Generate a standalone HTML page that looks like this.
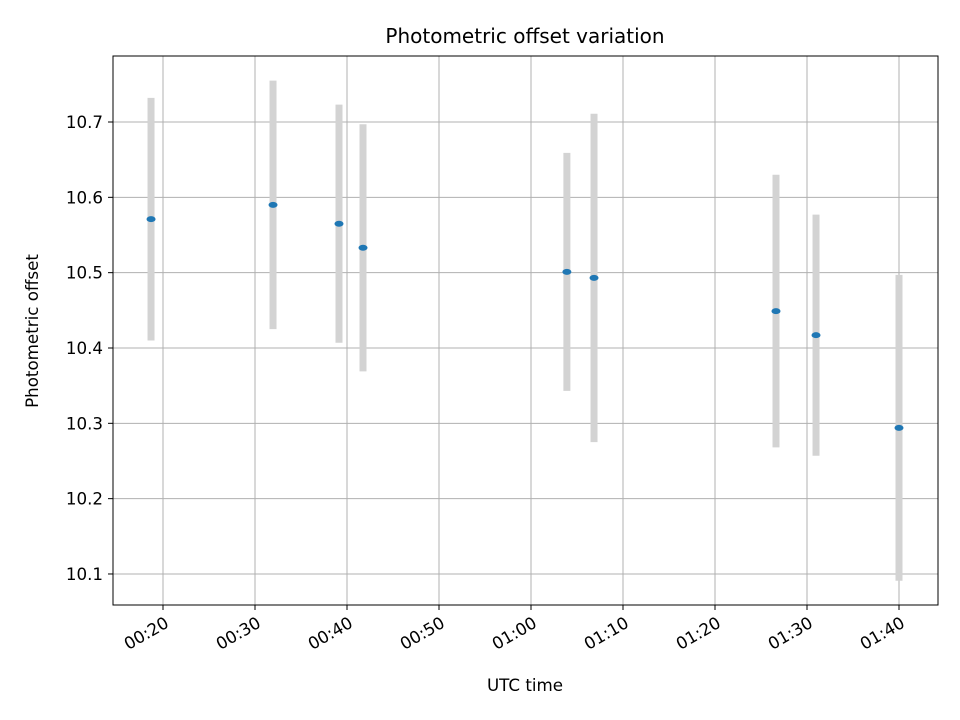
<!DOCTYPE html>
<html><head><meta charset="utf-8"><style>
html,body{margin:0;padding:0;background:#fff;}
svg{display:block;font-family:"DejaVu Sans","Liberation Sans",sans-serif;}
</style></head><body>
<svg id="chart" width="960" height="720">
<rect width="960" height="720" fill="#fff"/>
<g id="grid"></g>
<g id="bars"></g>
<g id="axes"></g>
<rect x="113" y="56" width="825" height="549" fill="none" stroke="#000" stroke-width="1"/>
<text x="525" y="43" text-anchor="middle" font-size="20">Photometric offset variation</text>
<text x="525" y="691" text-anchor="middle" font-size="16.7">UTC time</text>
<text transform="translate(38,331) rotate(-90)" text-anchor="middle" font-size="16.7">Photometric offset</text>
</svg>
<script>
// time in minutes after 00:00 UTC
const times = [18.7, 31.96, 39.13, 41.74, 63.9, 66.85, 86.63, 90.98, 100.0];
const offsets = [10.571, 10.590, 10.565, 10.533, 10.501, 10.493, 10.449, 10.417, 10.294];
const errors = [0.161, 0.165, 0.158, 0.164, 0.158, 0.218, 0.181, 0.160, 0.203];
const xTicks = [20, 30, 40, 50, 60, 70, 80, 90, 100];
const xTickLabels = ["00:20","00:30","00:40","00:50","01:00","01:10","01:20","01:30","01:40"];
const yTicks = [10.1, 10.2, 10.3, 10.4, 10.5, 10.6, 10.7];

const NS = "http://www.w3.org/2000/svg";
const L = 113, R = 938, T = 56, B = 605;
function xs(m){ return 163 + (m - 20) * 9.2; }
function ys(v){ return 122 + (10.7 - v) * 753.3; }
function mk(tag, attrs, parent){
  const e = document.createElementNS(NS, tag);
  for (const k in attrs) e.setAttribute(k, attrs[k]);
  parent.appendChild(e); return e;
}
const grid = document.getElementById('grid');
const axes = document.getElementById('axes');
const bars = document.getElementById('bars');
xTicks.forEach((t, i) => {
  const x = xs(t);
  const g = mk('line', {x1:x, x2:x, y1:T, y2:B, stroke:'#b0b0b0', 'stroke-width':1}, grid);
  
  
  const tk = mk('line', {x1:x, x2:x, y1:B, y2:B+5, stroke:'#000'}, axes);
  
  
  const ax = x + 4, ay = B + 22;
  const tx = mk('text', {x:ax, y:ay, 'text-anchor':'end', 'font-size':16.7, transform:`rotate(-30 ${ax} ${ay-6})`}, axes);
  tx.textContent = xTickLabels[i];
  
  
});
yTicks.forEach(t => {
  const y = ys(t);
  const g = mk('line', {x1:L, x2:R, y1:y, y2:y, stroke:'#b0b0b0', 'stroke-width':1}, grid);
  
  
  const tk = mk('line', {x1:L-5, x2:L, y1:y, y2:y, stroke:'#000'}, axes);
  
  
  const tx = mk('text', {x:L-10, y:y+6, 'text-anchor':'end', 'font-size':16.7}, axes);
  tx.textContent = t.toFixed(1);
  
  
});
times.forEach((t, i) => {
  const x = xs(t);
  const eb = mk('line', {x1:x, x2:x, y1:ys(offsets[i]+errors[i]), y2:ys(offsets[i]-errors[i]), stroke:'#d3d3d3', 'stroke-width':7}, bars);
  
  
  const p = mk('ellipse', {cx:x, cy:ys(offsets[i]), rx:4.5, ry:3, fill:'#1f77b4'}, bars);
  
  
});
</script>
</body></html>
